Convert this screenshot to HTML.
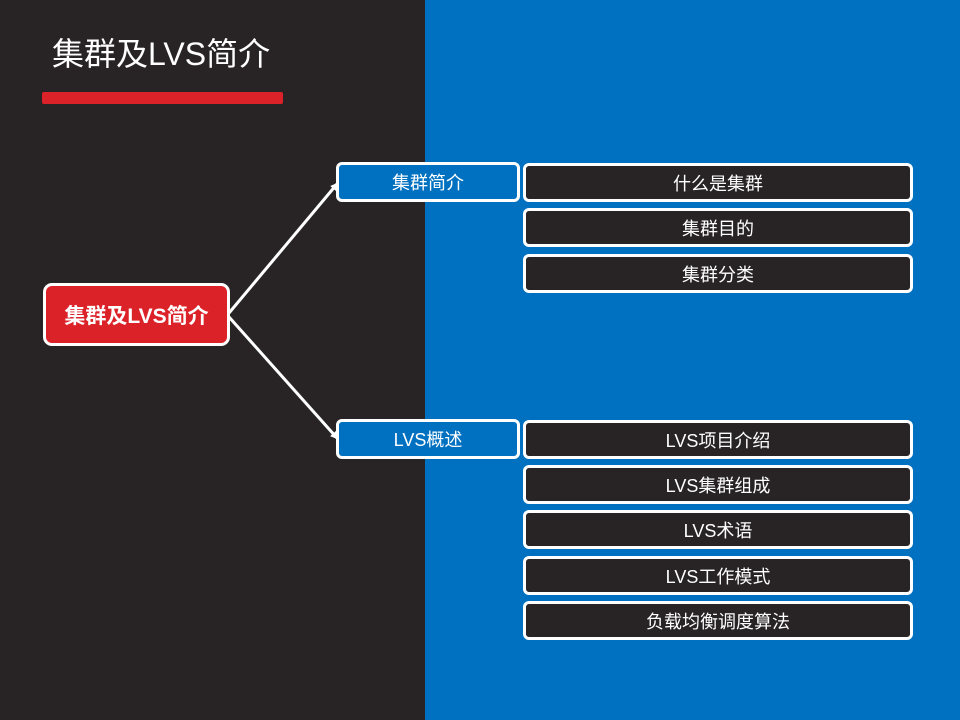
<!DOCTYPE html>
<html><head><meta charset="utf-8"><style>
body{margin:0;width:960px;height:720px;position:relative;overflow:hidden;background:#282425;font-family:"Liberation Sans","Noto Sans CJK SC",sans-serif;color:#fff}
.blue{position:absolute;left:425px;top:0;width:535px;height:720px;background:#0070C0}
.t{position:absolute;left:52px;top:32px;font-size:32px;line-height:44px}
.bar{position:absolute;left:42px;top:92px;width:241px;height:12px;background:#DC2229;border-radius:2px}
.b{position:absolute;box-sizing:border-box;border:3px solid #fff;border-radius:6px;display:flex;align-items:center;justify-content:center;font-size:18px}
.k{background:#282425;left:523px;width:390px;height:39px}
.l1{background:#0070C0;left:336px;width:184px;height:40px}
</style></head><body>
<div class="blue"></div>
<div class="t">集群及LVS简介</div>
<div class="bar"></div>
<svg width="960" height="720" style="position:absolute;left:0;top:0">
<defs><marker id="a" markerWidth="8" markerHeight="8" refX="6" refY="4" orient="auto" markerUnits="userSpaceOnUse"><path d="M0,0 L8,4 L0,8 Z" fill="#fff"/></marker></defs>
<line x1="229" y1="313" x2="337" y2="184" stroke="#fff" stroke-width="3" marker-end="url(#a)"/>
<line x1="229" y1="317" x2="337" y2="438" stroke="#fff" stroke-width="3" marker-end="url(#a)"/>
</svg>
<div class="b" style="left:43px;top:283px;width:187px;height:63px;background:#DC2229;font-weight:bold;font-size:21px;border-radius:9px">集群及LVS简介</div>
<div class="b l1" style="top:162px">集群简介</div>
<div class="b l1" style="top:419px">LVS概述</div>
<div class="b k" style="top:163px">什么是集群</div>
<div class="b k" style="top:208px">集群目的</div>
<div class="b k" style="top:254px">集群分类</div>
<div class="b k" style="top:420px">LVS项目介绍</div>
<div class="b k" style="top:465px">LVS集群组成</div>
<div class="b k" style="top:510px">LVS术语</div>
<div class="b k" style="top:556px">LVS工作模式</div>
<div class="b k" style="top:601px">负载均衡调度算法</div>
</body></html>
